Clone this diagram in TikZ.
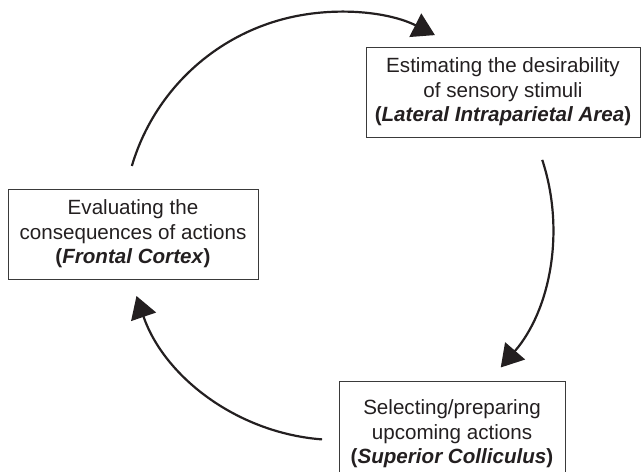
\documentclass[tikz,border=0pt]{standalone}
\usepackage{fontspec}
\setmainfont{Liberation Sans}
\usetikzlibrary{arrows.meta}
\definecolor{inkdark}{HTML}{231F20}
\definecolor{boxline}{HTML}{3A3A3A}

\begin{document}
\begin{tikzpicture}[x=1pt, y=1pt,
  stage/.style={draw=boxline, line width=1pt, text=inkdark, align=center,
    font=\fontsize{20.6}{24.5}\selectfont, inner xsep=0pt},
  cyc/.style={inkdark, line width=2.2pt, -{Triangle[length=22pt, width=26pt]}}]

% Page
\useasboundingbox (0,0) rectangle (644,-471);

% Centre of the cycle
\coordinate (hub) at (338,-227);

% Stages
\node[stage, minimum width=274pt, minimum height=90pt, inner ysep=2pt] (lip) at (503,-92)
  {Estimating the desirability\\ of sensory stimuli\\
   \textbf{(\textit{Lateral Intraparietal Area})}};
\node[stage, minimum width=250pt, minimum height=90pt, inner ysep=2pt] (fc) at (133,-234)
  {Evaluating the\\ consequences of actions\\ \textbf{(\textit{Frontal Cortex})}};
\node[stage, minimum width=226pt, inner ysep=18.5pt, anchor=north] (sc) at (452,-381)
  {Selecting/preparing\\ upcoming actions\\ \textbf{(\textit{Superior Colliculus})}};

% Cycle arcs (fc -> lip -> sc -> fc)
\draw[cyc] ([shift={(163.5:215pt)}]hub) arc[start angle=163.5, end angle=63.2, radius=215pt];
\draw[cyc] ([shift={(18.2:215pt)}]hub) arc[start angle=18.2, end angle=-40.8, radius=215pt];
\draw[cyc] ([shift={(-94.3:213pt)}]hub) arc[start angle=-94.3, end angle=-161.1, radius=213pt];

\end{tikzpicture}
\end{document}
